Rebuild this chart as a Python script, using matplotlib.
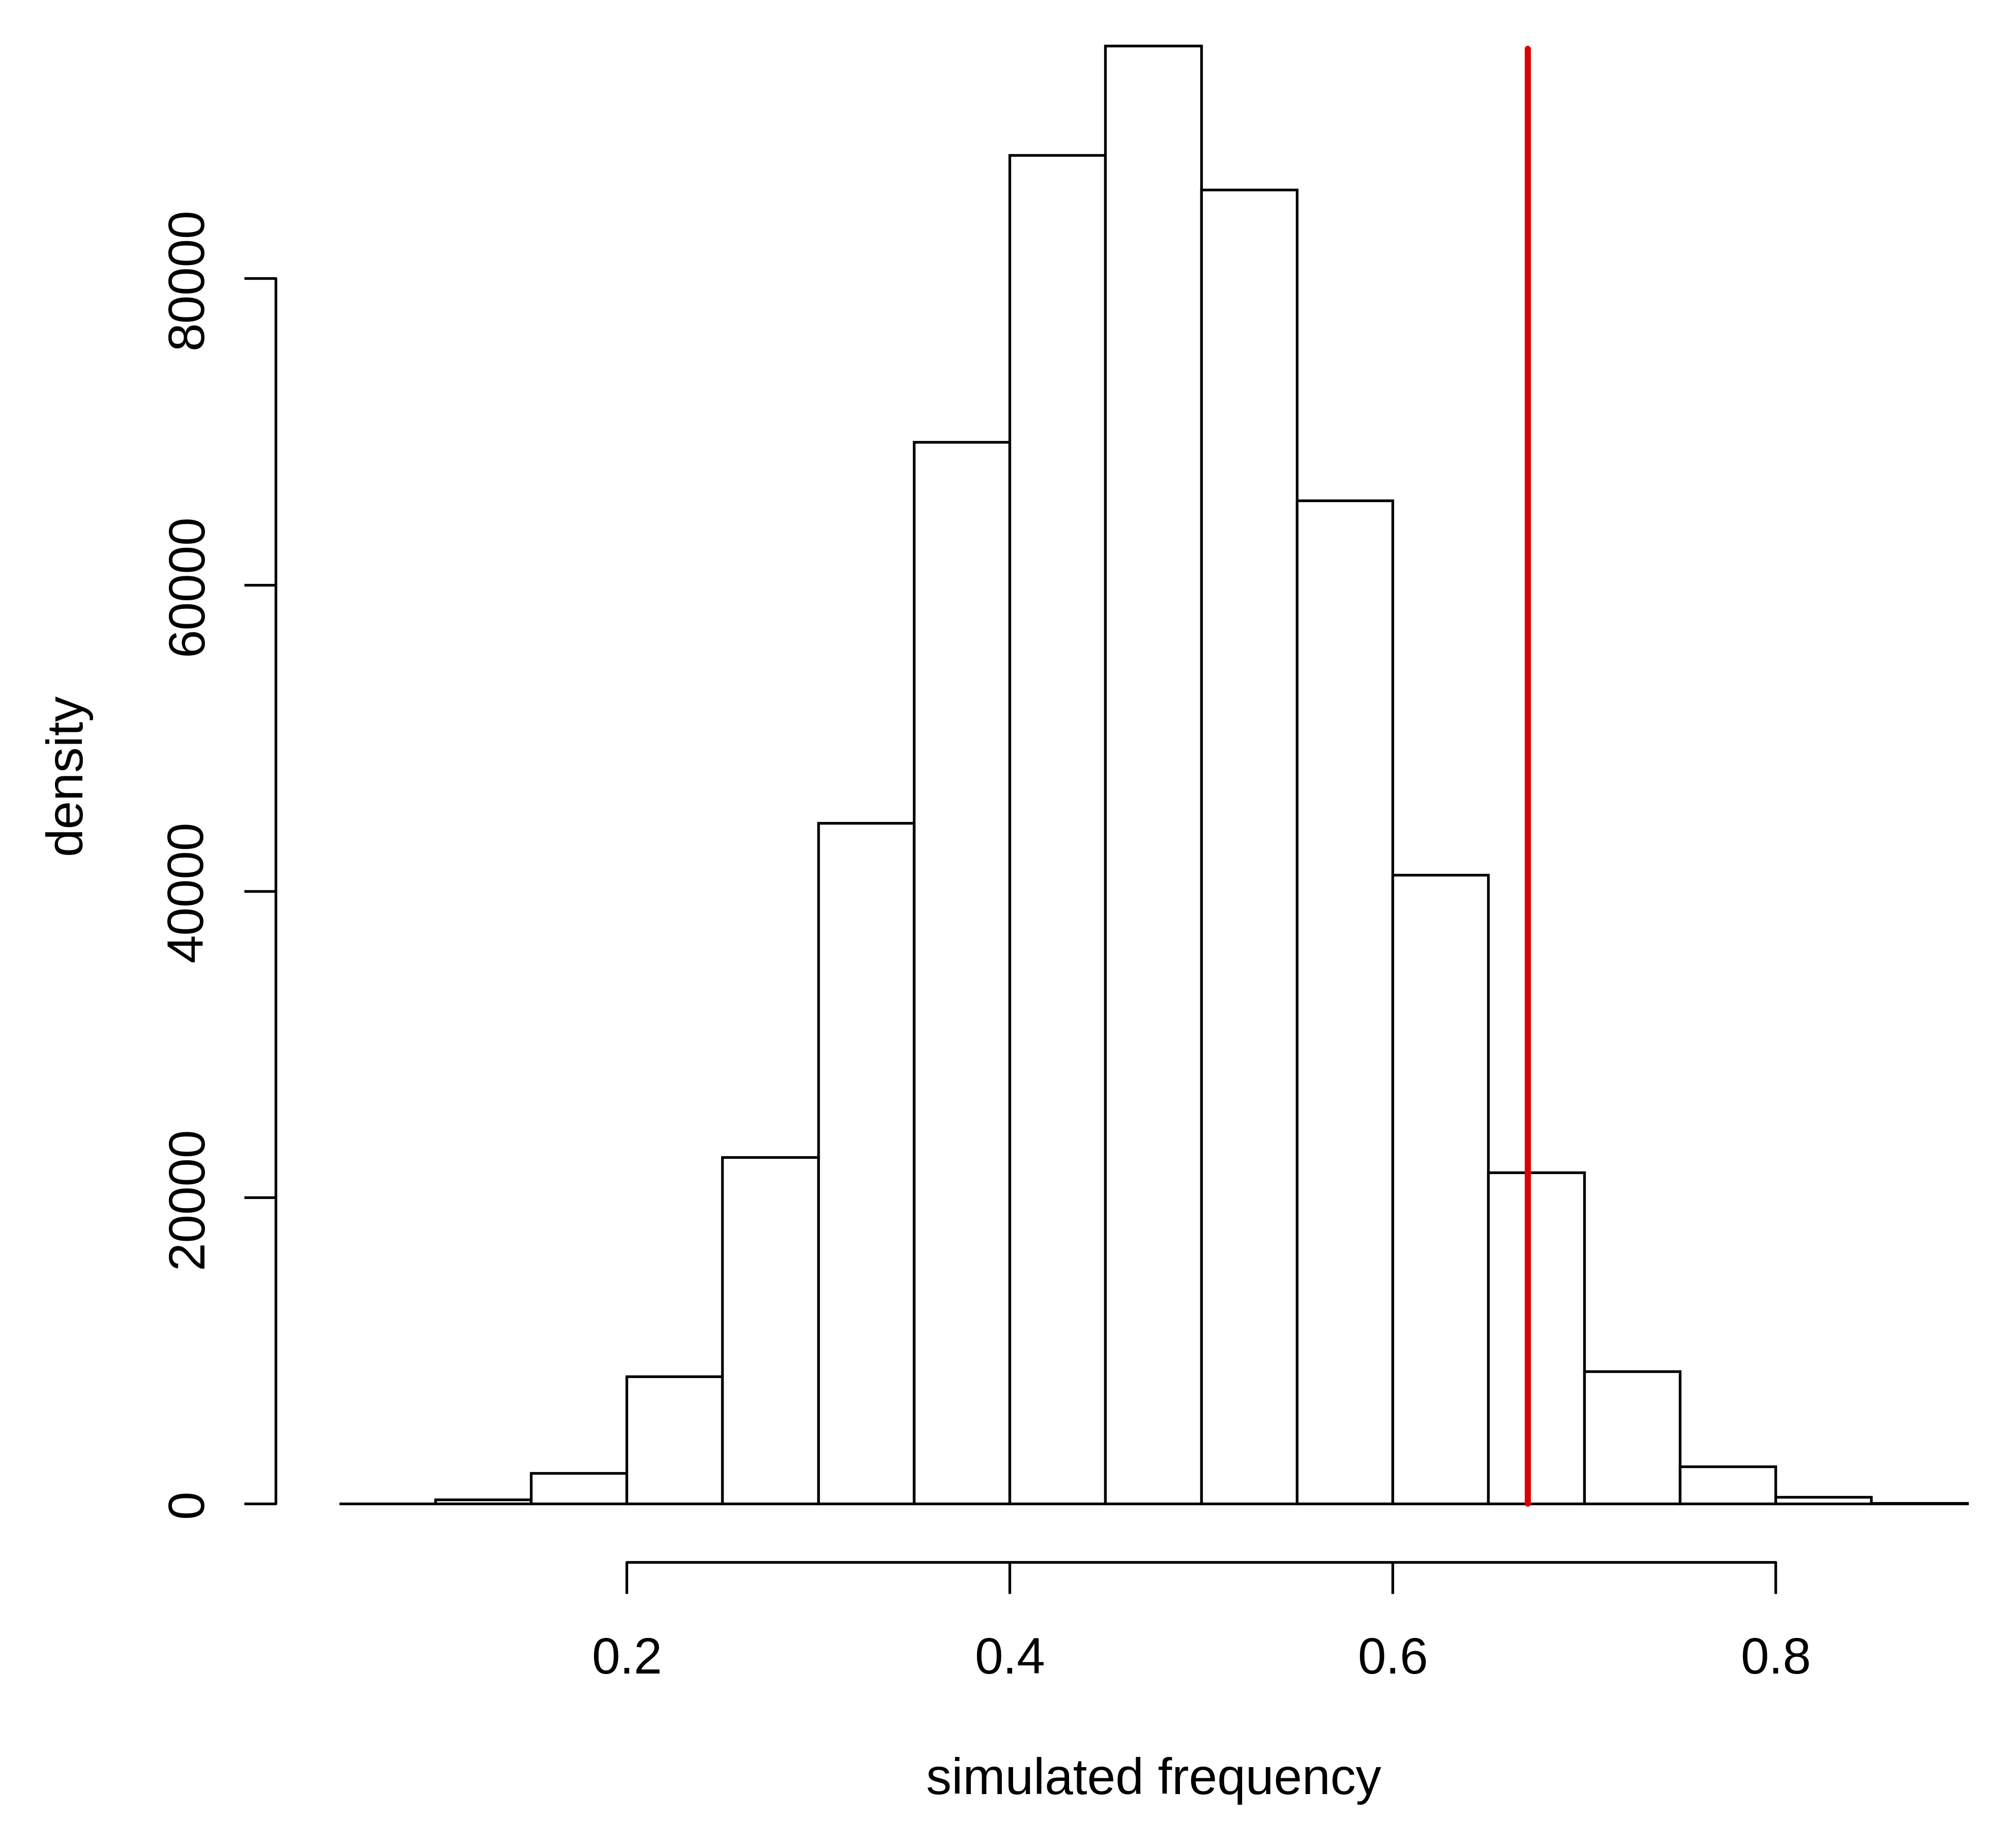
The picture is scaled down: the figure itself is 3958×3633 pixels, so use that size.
import matplotlib
matplotlib.use("Agg")
import matplotlib.pyplot as plt
import numpy as np

# ---- data ----
bin_edges = [0.05, 0.10, 0.15, 0.20, 0.25, 0.30, 0.35, 0.40, 0.45,
             0.50, 0.55, 0.60, 0.65, 0.70, 0.75, 0.80, 0.85, 0.90]
densities = [0, 277, 1990, 8300, 22640, 44450, 69300, 88040, 95200,
             85770, 65490, 41070, 21640, 8640, 2435, 440, 60]
observed_value = 0.6707
red_line_top = 95000
x_ticks = [0.2, 0.4, 0.6, 0.8]
x_tick_labels = ["0.2", "0.4", "0.6", "0.8"]
y_ticks = [0, 20000, 40000, 60000, 80000]
y_tick_labels = ["0", "20000", "40000", "60000", "80000"]
x_label = "simulated frequency"
y_label = "density"

# ---- figure ----
W, H, DPI = 3958, 3633, 300
plt.rcParams['font.family'] = ['Liberation Sans', 'DejaVu Sans']
fig = plt.figure(figsize=(W / DPI, H / DPI), dpi=DPI)

ax_left_px, ax_bottom_px = 541.7, 3071.0
ax = fig.add_axes([ax_left_px / W, 1 - ax_bottom_px / H,
                   1 - ax_left_px / W, ax_bottom_px / H])
ax.set_xlim(0.01665, 0.924)
ax.set_ylim(-3808, 98173)

lw = 1.27
widths = np.diff(bin_edges)
ax.bar(bin_edges[:-1], densities, width=widths, align='edge',
       facecolor='white', edgecolor='black', linewidth=lw,
       joinstyle='miter', zorder=2)

ax.plot([observed_value, observed_value], [0, red_line_top],
        color='#DD0000', linewidth=2.9, solid_capstyle='round', zorder=3)

for s in ['top', 'right']:
    ax.spines[s].set_visible(False)
ax.spines['left'].set_bounds(0, 80000)
ax.spines['bottom'].set_bounds(0.2, 0.8)
for s in ['left', 'bottom']:
    ax.spines[s].set_linewidth(lw)
    ax.spines[s].set_capstyle('round')

ax.set_xticks(x_ticks)
ax.set_xticklabels(x_tick_labels)
ax.set_yticks(y_ticks)
ax.set_yticklabels(y_tick_labels, rotation=90, va='center', ha='right')

ax.tick_params(axis='both', direction='out', length=14.9, width=lw,
               labelsize=24, colors='black')
ax.tick_params(axis='x', pad=20.2)
ax.tick_params(axis='y', pad=14.6)

ax.set_xlabel(x_label, fontsize=24, va='baseline')
ax.xaxis.set_label_coords(0.5053, -0.1485)
ax.set_ylabel(y_label, fontsize=24, va='baseline')
ax.yaxis.set_label_coords(-0.11223, 0.5047)

fig.savefig("out.png", dpi=DPI)
